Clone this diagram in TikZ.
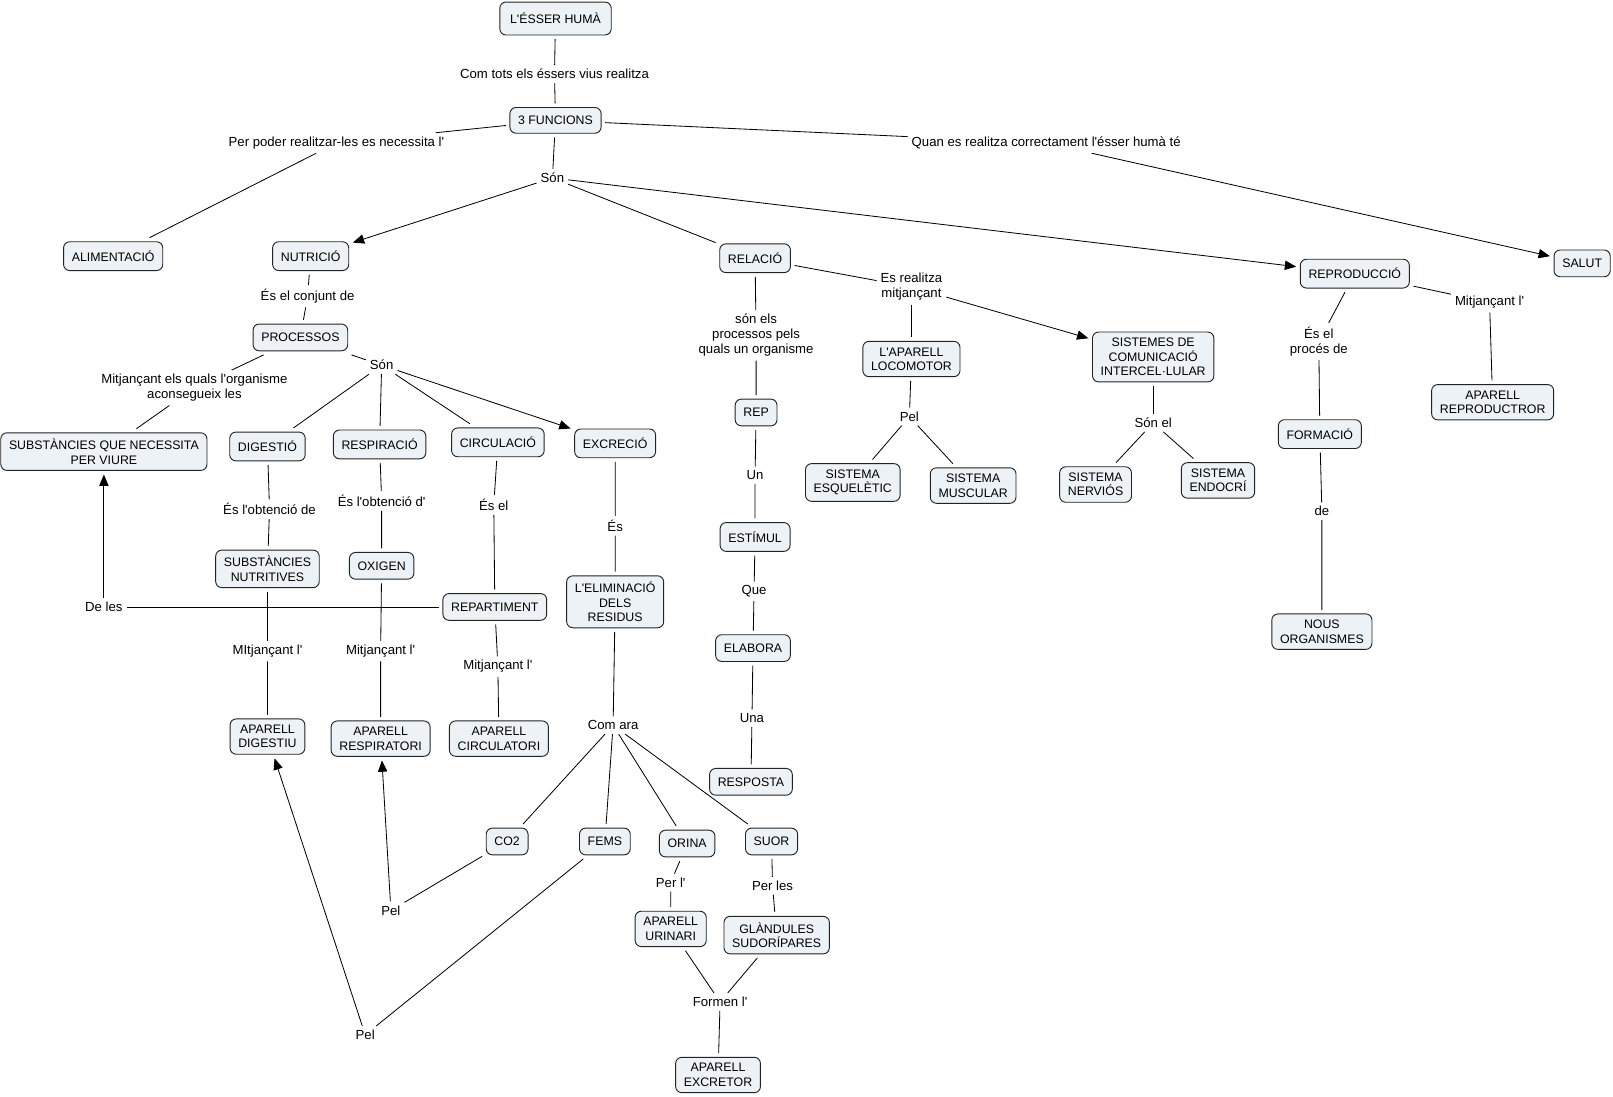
\documentclass[tikz,border=0pt]{standalone}
\usepackage{fontspec}
\newfontfamily\cmapfont{Liberation Sans}
\usetikzlibrary{arrows.meta}
\definecolor{boxfill}{RGB}{236,242,245}
\definecolor{boxline}{RGB}{35,35,35}
\begin{document}
\begin{tikzpicture}[x=1pt,y=-1pt,
  box/.style={draw=boxline, fill=boxfill, rounded corners=6pt, line width=0.9pt, align=center,
    inner xsep=8pt, inner ysep=6pt, minimum height=26pt, outer sep=4pt,
    font=\cmapfont\fontsize{12}{14}\selectfont},
  lab/.style={align=center, inner sep=2pt, outer sep=2pt,
    font=\cmapfont\fontsize{12.8}{14.5}\selectfont},
  con/.style={draw=black, line width=0.8pt},
  arr/.style={con, -{Triangle[length=11pt,width=9pt]}}]
\useasboundingbox (0,0) rectangle (1568,1066);
% concepts
\node[box, minimum height=32pt, inner xsep=10pt] (H) at (540,18) {L'ÉSSER HUMÀ};
\node[box, minimum height=25pt] (F3) at (540,117) {3 FUNCIONS};
\node[box, minimum height=28pt] (ALIM) at (110,249) {ALIMENTACIÓ};
\node[box, minimum height=28pt] (NUT) at (302,249) {NUTRICIÓ};
\node[box, minimum height=28pt] (REL) at (734,251) {RELACIÓ};
\node[box, minimum height=28pt] (REPR) at (1317,266) {REPRODUCCIÓ};
\node[box] (SALUT) at (1538,256) {SALUT};
\node[box] (PROC) at (292,328) {PROCESSOS};
\node[box] (SUBS) at (101,439) {SUBSTÀNCIES QUE NECESSITA\\PER VIURE};
\node[box, minimum height=28pt] (DIG) at (260,434) {DIGESTIÓ};
\node[box, minimum height=28pt] (RESP) at (369,432) {RESPIRACIÓ};
\node[box, minimum height=28pt] (CIRC) at (484,430) {CIRCULACIÓ};
\node[box, minimum height=28pt] (EXC) at (598,431) {EXCRECIÓ};
\node[box] (REP) at (735,401) {REP};
\node[box] (LOCO) at (886,349) {L'APARELL\\LOCOMOTOR};
\node[box] (SIST) at (1121,347) {SISTEMES DE\\COMUNICACIÓ\\INTERCEL·LULAR};
\node[box] (AREPR) at (1451,391) {APARELL\\REPRODUCTROR};
\node[box, minimum height=28pt] (FORM) at (1283,422) {FORMACIÓ};
\node[box] (NOUS) at (1285,614) {NOUS\\ORGANISMES};
\node[box] (ESQ) at (829,469) {SISTEMA\\ESQUELÈTIC};
\node[box] (MUSC) at (946,472) {SISTEMA\\MUSCULAR};
\node[box] (NERV) at (1065,471) {SISTEMA\\NERVIÓS};
\node[box] (ENDO) at (1184,467) {SISTEMA\\ENDOCRÍ};
\node[box] (SNUT) at (260,553) {SUBSTÀNCIES\\NUTRITIVES};
\node[box] (OXI) at (371,550) {OXIGEN};
\node[box] (REPART) at (481,590) {REPARTIMENT};
\node[box] (ELIM) at (598,585) {L'ELIMINACIÓ\\DELS\\RESIDUS};
\node[box, minimum height=28pt] (ESTIM) at (734,522) {ESTÍMUL};
\node[box] (ELAB) at (732,630) {ELABORA};
\node[box] (RESPO) at (730,760) {RESPOSTA};
\node[box] (ADIG) at (260,716) {APARELL\\DIGESTIU};
\node[box] (ARESP) at (370,718) {APARELL\\RESPIRATORI};
\node[box] (ACIRC) at (485,718) {APARELL\\CIRCULATORI};
\node[box] (CO2) at (493,818) {CO2};
\node[box] (FEMS) at (588,818) {FEMS};
\node[box] (ORINA) at (668,820) {ORINA};
\node[box] (SUOR) at (750,818) {SUOR};
\node[box] (AURIN) at (652,903) {APARELL\\URINARI};
\node[box] (GLAND) at (755,909) {GLÀNDULES\\SUDORÍPARES};
\node[box] (AEXC) at (698,1045) {APARELL\\EXCRETOR};
% linking phrases
\node[lab] (l1) at (539,72) {Com tots els éssers vius realitza};
\node[lab] (l2) at (327,139) {Per poder realitzar-les es necessita l'};
\node[lab] (l3) at (1017,139) {Quan es realitza correctament l'ésser humà té};
\node[lab] (l4) at (537,173) {Són};
\node[lab] (l5) at (299,288) {És el conjunt de};
\node[lab] (l6) at (189,377) {Mitjançant els quals l'organisme\\aconsegueix les};
\node[lab] (l7) at (371,355) {Són};
\node[lab] (l8) at (735,326) {són els\\processos pels\\quals un organisme};
\node[lab] (l9) at (886,279) {Es realitza\\mitjançant};
\node[lab] (l10) at (884,405) {Pel};
\node[lab] (l11) at (1121,411) {Són el};
\node[lab] (l12) at (1282,332) {És el\\procés de};
\node[lab] (l13) at (1448,294) {Mitjançant l'};
\node[lab] (l14) at (1285,497) {de};
\node[lab] (l15) at (262,495) {És l'obtenció de};
\node[lab] (l16) at (371,487) {És l'obtenció d'};
\node[lab] (l17) at (480,491) {És el};
\node[lab] (l18) at (598,511) {És};
\node[lab] (l19) at (101,590) {De les};
\node[lab] (l20) at (260,633) {MItjançant l'};
\node[lab] (l21) at (370,633) {Mitjançant l'};
\node[lab] (l22) at (484,648) {Mitjançant l'};
\node[lab] (l23) at (734,462) {Un};
\node[lab] (l24) at (733,575) {Que};
\node[lab] (l25) at (731,698) {Una};
\node[lab] (l26) at (596,705) {Com ara};
\node[lab] (l27) at (652,858) {Per l'};
\node[lab] (l28) at (751,861) {Per les};
\node[lab] (l29) at (700,974) {Formen l'};
\node[lab] (l30) at (380,885) {Pel};
\node[lab] (l31) at (355,1006) {Pel};
% connectors
\draw[con] (H) -- (l1) -- (F3);
\draw[con] (F3) -- (l2) -- (ALIM);
\draw[arr] (F3) -- (l3) -- (SALUT);
\draw[con] (F3) -- (l4);
\draw[arr] (l4) -- (NUT);
\draw[con] (l4) -- (REL);
\draw[arr] (l4) -- (REPR);
\draw[con] (NUT) -- (l5) -- (PROC);
\draw[con] (PROC) -- (l6) -- (SUBS);
\draw[con] (PROC) -- (l7);
\draw[con] (l7) -- (DIG);
\draw[con] (l7) -- (RESP);
\draw[con] (l7) -- (CIRC);
\draw[arr] (l7) -- (EXC);
\draw[con] (REL) -- (l8) -- (REP) -- (l23) -- (ESTIM) -- (l24) -- (ELAB) -- (l25) -- (RESPO);
\draw[con] (REL) -- (l9);
\draw[con] (l9) -- (LOCO);
\draw[arr] (l9) -- (SIST);
\draw[con] (LOCO) -- (l10);
\draw[con] (l10) -- (ESQ);
\draw[con] (l10) -- (MUSC);
\draw[con] (SIST) -- (l11);
\draw[con] (l11) -- (NERV);
\draw[con] (l11) -- (ENDO);
\draw[con] (REPR) -- (l12) -- (FORM) -- (l14) -- (NOUS);
\draw[con] (REPR) -- (l13) -- (AREPR);
\draw[con] (DIG) -- (l15) -- (SNUT) -- (l20) -- (ADIG);
\draw[con] (RESP) -- (l16) -- (OXI) -- (l21) -- (ARESP);
\draw[con] (CIRC) -- (l17) -- (REPART) -- (l22) -- (ACIRC);
\draw[con] (REPART) -- (l19);
\draw[arr] (l19) -- (SUBS);
\draw[con] (EXC) -- (l18) -- (ELIM) -- (l26);
\draw[con] (l26) -- (CO2);
\draw[con] (l26) -- (FEMS);
\draw[con] (l26) -- (ORINA);
\draw[con] (l26) -- (SUOR);
\draw[con] (ORINA) -- (l27) -- (AURIN);
\draw[con] (SUOR) -- (l28) -- (GLAND);
\draw[con] (AURIN) -- (l29);
\draw[con] (GLAND) -- (l29);
\draw[con] (l29) -- (AEXC);
\draw[con] (CO2) -- (l30);
\draw[arr] (l30) -- (ARESP);
\draw[con] (FEMS) -- (l31);
\draw[arr] (l31) -- (ADIG);
\end{tikzpicture}
\end{document}
